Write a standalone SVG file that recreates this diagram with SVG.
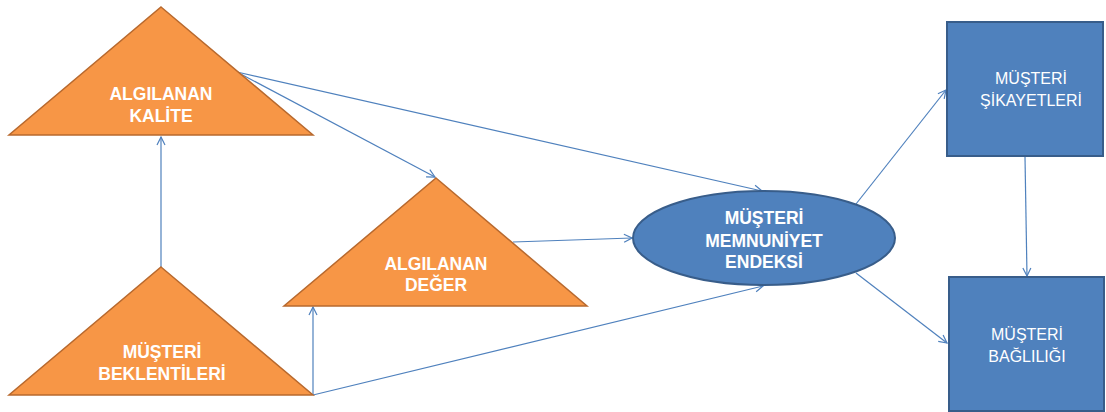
<svg xmlns="http://www.w3.org/2000/svg" width="1106" height="412" viewBox="0 0 1106 412">
<defs>
<style>
.tri{fill:#F79646;stroke:#B8692E;stroke-width:1.5}
.blue{fill:#4F81BD;stroke:#385D8A;stroke-width:2}
.lbl{font-family:"Liberation Sans",Arial,sans-serif;font-size:17.5px;font-weight:bold;fill:#FFFFFF;text-anchor:middle}
.lbl2{font-family:"Liberation Sans",Arial,sans-serif;font-size:16px;fill:#FFFFFF;text-anchor:middle}
.con{stroke:#4F81BD;stroke-width:1.2;fill:none;marker-end:url(#arr)}
</style>
<marker id="arr" viewBox="0 0 10 10" refX="9" refY="5" markerWidth="10" markerHeight="10" markerUnits="userSpaceOnUse" orient="auto">
<path d="M1,1 L9,5 L1,9" fill="none" stroke="#4F81BD" stroke-width="1.2"/>
</marker>
</defs>
<rect width="1106" height="412" fill="#FFFFFF"/>
<g id="connectors">
<line class="con" x1="161" y1="267" x2="161" y2="137"/>
<line class="con" x1="313" y1="395" x2="313" y2="307"/>
<line class="con" x1="313" y1="395" x2="763" y2="286"/>
<line class="con" x1="237" y1="72" x2="435" y2="177"/>
<line class="con" x1="237" y1="72" x2="762" y2="191"/>
<line class="con" x1="513" y1="242" x2="632" y2="238"/>
<line class="con" x1="856" y1="204" x2="946" y2="90"/>
<line class="con" x1="856" y1="273" x2="947" y2="343"/>
<line class="con" x1="1025" y1="157" x2="1027" y2="276"/>
</g>
<g id="algilanan-kalite">
<polygon class="tri" points="161,7 313,135 9,135"/>
<text class="lbl" x="161" y="100">ALGILANAN</text>
<text class="lbl" x="161" y="122">KALİTE</text>
</g>
<g id="algilanan-deger">
<polygon class="tri" points="436,178 587,306 284,306"/>
<text class="lbl" x="436" y="270">ALGILANAN</text>
<text class="lbl" x="436" y="291">DEĞER</text>
</g>
<g id="musteri-beklentileri">
<polygon class="tri" points="161,267 313,395 9,395"/>
<text class="lbl" x="162" y="358">MÜŞTERİ</text>
<text class="lbl" x="162" y="380">BEKLENTİLERİ</text>
</g>
<g id="musteri-memnuniyet-endeksi">
<ellipse class="blue" cx="764" cy="238" rx="131" ry="47"/>
<text class="lbl" x="764" y="224">MÜŞTERİ</text>
<text class="lbl" x="764" y="247">MEMNUNİYET</text>
<text class="lbl" x="764" y="268">ENDEKSİ</text>
</g>
<g id="musteri-sikayetleri">
<rect class="blue" x="947" y="22" width="156" height="134"/>
<text class="lbl2" x="1031" y="84">MÜŞTERİ</text>
<text class="lbl2" x="1031" y="106">ŞİKAYETLERİ</text>
</g>
<g id="musteri-bagliligi">
<rect class="blue" x="949" y="277" width="155" height="134"/>
<text class="lbl2" x="1027" y="340">MÜŞTERİ</text>
<text class="lbl2" x="1027" y="362">BAĞLILIĞI</text>
</g>
</svg>
